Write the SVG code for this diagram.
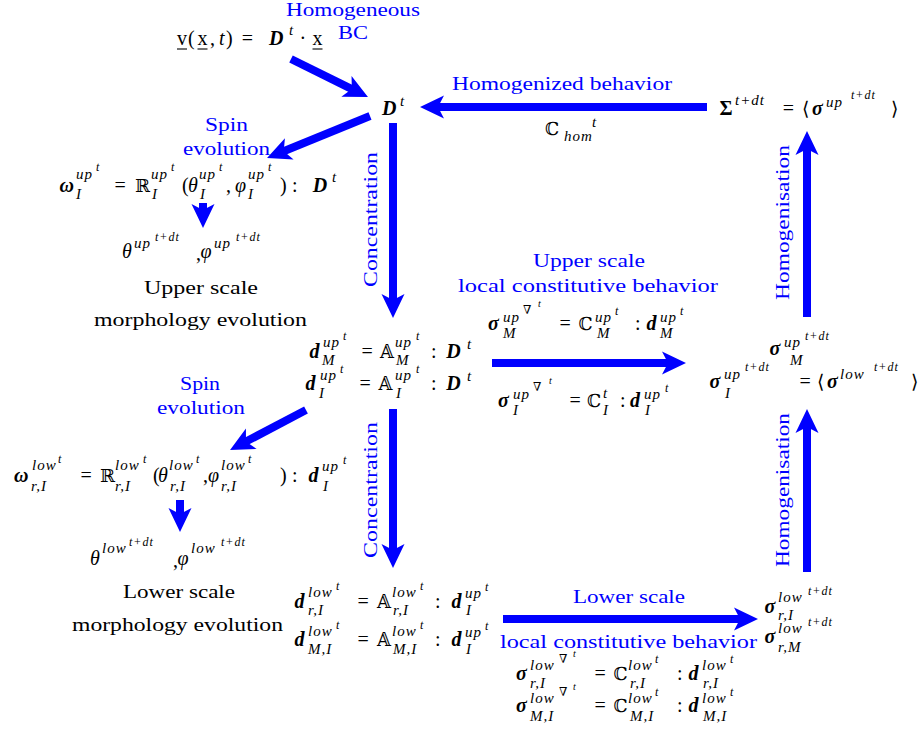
<svg xmlns="http://www.w3.org/2000/svg" width="922" height="736" viewBox="0 0 922 736">
<defs>
<style>
.t{font-family:"Liberation Serif","DejaVu Serif",serif;font-size:20px;fill:#000}
.it{font-style:italic}
.bi{font-style:italic;font-weight:bold}
.bo{font-weight:bold}
.bb{font-family:"DejaVu Serif","DejaVu Sans",serif;font-size:18px}
.sy{font-family:"DejaVu Sans",sans-serif;font-size:19px}
.s1{font-size:15px;font-style:italic;letter-spacing:1px}
.s2{font-size:12px;font-style:italic;letter-spacing:1px}
.s3{font-size:10px;font-style:italic}
.lbl{font-family:"Liberation Serif",serif;font-size:19px;fill:#0000ff}
.blk{font-family:"Liberation Serif",serif;font-size:19px;fill:#000}
.ul{stroke:#000;stroke-width:1.1}
.arr{stroke:#0000ff;stroke-width:8;fill:none;marker-end:url(#ah)}
</style>
<marker id="ah" markerUnits="userSpaceOnUse" viewBox="-15 -12 26 24" refX="0" refY="0" markerWidth="26" markerHeight="24" orient="auto" overflow="visible">
<path d="M10,0 L-14,-11.5 L-8,0 L-14,11.5 Z" fill="#0000ff"/>
</marker>
</defs>
<rect width="922" height="736" fill="#fff"/>

<g id="connectors">
<line class="arr" x1="291" y1="59" x2="359" y2="92.6"/>
<line class="arr" x1="707" y1="107" x2="430" y2="107"/>
<line class="arr" x1="370" y1="116" x2="276.3" y2="154.2"/>
<line class="arr" x1="203" y1="203" x2="203" y2="218"/>
<line class="arr" x1="393" y1="123" x2="393" y2="308"/>
<line class="arr" x1="807" y1="317" x2="807" y2="141"/>
<line class="arr" x1="492" y1="363" x2="676" y2="363"/>
<line class="arr" x1="306" y1="410" x2="238.9" y2="445.3"/>
<line class="arr" x1="180" y1="500" x2="180" y2="522"/>
<line class="arr" x1="393" y1="409" x2="393" y2="558"/>
<line class="arr" x1="807" y1="572" x2="807" y2="419"/>
<line class="arr" x1="503" y1="619" x2="748" y2="619"/>
</g>

<g id="labels">
<text class="lbl" x="286" y="16" textLength="134" lengthAdjust="spacingAndGlyphs">Homogeneous</text>
<text class="lbl" x="338" y="39" textLength="30" lengthAdjust="spacingAndGlyphs">BC</text>
<text class="lbl" x="452" y="90" textLength="220" lengthAdjust="spacingAndGlyphs">Homogenized behavior</text>
<text class="lbl" x="205" y="131" textLength="43" lengthAdjust="spacingAndGlyphs">Spin</text>
<text class="lbl" x="183" y="155" textLength="87" lengthAdjust="spacingAndGlyphs">evolution</text>
<text class="lbl" transform="translate(377,287) rotate(-90)" x="0" y="0" textLength="135" lengthAdjust="spacingAndGlyphs">Concentration</text>
<text class="lbl" transform="translate(789,300) rotate(-90)" x="0" y="0" textLength="155" lengthAdjust="spacingAndGlyphs">Homogenisation</text>
<text class="lbl" x="533" y="267" textLength="112" lengthAdjust="spacingAndGlyphs">Upper scale</text>
<text class="lbl" x="458" y="292" textLength="260" lengthAdjust="spacingAndGlyphs">local constitutive behavior</text>
<text class="lbl" x="180" y="390" textLength="40" lengthAdjust="spacingAndGlyphs">Spin</text>
<text class="lbl" x="157" y="414" textLength="88" lengthAdjust="spacingAndGlyphs">evolution</text>
<text class="lbl" transform="translate(377,558) rotate(-90)" x="0" y="0" textLength="136" lengthAdjust="spacingAndGlyphs">Concentration</text>
<text class="lbl" transform="translate(789,567) rotate(-90)" x="0" y="0" textLength="154" lengthAdjust="spacingAndGlyphs">Homogenisation</text>
<text class="lbl" x="573" y="603" textLength="112" lengthAdjust="spacingAndGlyphs">Lower scale</text>
<text class="lbl" x="500" y="648" textLength="257" lengthAdjust="spacingAndGlyphs">local constitutive behavior</text>
</g>

<g id="bc-velocity">
<text class="t"><tspan x="177" y="45">v</tspan><tspan x="188" y="45">(</tspan><tspan x="197.5" y="45">x</tspan><tspan x="210" y="45">,</tspan><tspan class="it" x="219" y="45">t</tspan><tspan x="226" y="45">)</tspan><tspan x="241.8" y="45">=</tspan><tspan class="bi" x="269" y="45">D</tspan><tspan class="s1" x="289" y="35">t</tspan><tspan x="299.5" y="45">·</tspan><tspan x="312.5" y="45">x</tspan></text>
<line class="ul" x1="177" y1="49" x2="187" y2="49"/>
<line class="ul" x1="197.5" y1="49" x2="207.5" y2="49"/>
<line class="ul" x1="312.5" y1="49" x2="322.5" y2="49"/>
</g>

<g id="D-macro">
<text class="t"><tspan class="bi" x="382" y="115">D</tspan><tspan class="s1" x="400" y="106">t</tspan></text>
</g>

<g id="Sigma-macro">
<text class="t"><tspan class="bo" x="719.6" y="115">Σ</tspan><tspan class="s1" x="735" y="105">t+dt</tspan><tspan x="782.8" y="115">=</tspan><tspan class="sy" x="802" y="115">⟨</tspan><tspan class="bi" x="812" y="115">σ</tspan><tspan class="s1" x="826" y="107">up</tspan><tspan class="s2" x="851" y="99">t+dt</tspan><tspan class="sy" x="891" y="115">⟩</tspan></text>
</g>

<g id="C-hom">
<text class="t"><tspan class="bb" x="545" y="135">ℂ</tspan><tspan class="s1" x="592" y="127">t</tspan><tspan class="s1" x="564" y="141">hom</tspan></text>
</g>

<g id="spin-up">
<text class="t"><tspan class="bi" x="59.5" y="192">ω</tspan><tspan class="s1" x="76" y="179">up</tspan><tspan class="s2" x="96" y="171">t</tspan><tspan class="s1" x="76" y="199">I</tspan><tspan x="114.4" y="192">=</tspan><tspan class="bb" x="135" y="192">ℝ</tspan><tspan class="s1" x="151" y="179">up</tspan><tspan class="s2" x="171" y="171">t</tspan><tspan class="s1" x="152" y="199">I</tspan><tspan x="182" y="192">(</tspan><tspan class="it" x="188" y="192">θ</tspan><tspan class="s1" x="199" y="179">up</tspan><tspan class="s2" x="219" y="171">t</tspan><tspan class="s1" x="200" y="199">I</tspan><tspan x="226" y="192">,</tspan><tspan class="it" x="235" y="192">φ</tspan><tspan class="s1" x="248" y="179">up</tspan><tspan class="s2" x="268" y="171">t</tspan><tspan class="s1" x="248" y="199">I</tspan><tspan x="280" y="192">)</tspan><tspan x="292" y="192">:</tspan><tspan class="bi" x="312.8" y="192">D</tspan><tspan class="s1" x="332" y="182">t</tspan></text>
</g>

<g id="angles-up">
<text class="t"><tspan class="it" x="122" y="258">θ</tspan><tspan class="s1" x="134" y="248">up</tspan><tspan class="s2" x="155" y="241">t+dt</tspan><tspan x="196" y="260">,</tspan><tspan class="it" x="200.5" y="258">φ</tspan><tspan class="s1" x="214" y="248">up</tspan><tspan class="s2" x="236" y="241">t+dt</tspan></text>
<text class="blk" x="144" y="294" textLength="114" lengthAdjust="spacingAndGlyphs">Upper scale</text>
<text class="blk" x="94" y="326" textLength="213" lengthAdjust="spacingAndGlyphs">morphology evolution</text>
</g>

<g id="concentration-up">
<text class="t"><tspan class="bi" x="309.5" y="358">d</tspan><tspan class="s1" x="323" y="347">up</tspan><tspan class="s2" x="343" y="340">t</tspan><tspan class="s1" x="322" y="365">M</tspan><tspan x="361.4" y="358">=</tspan><tspan class="bb" x="380" y="358">𝔸</tspan><tspan class="s1" x="395" y="347">up</tspan><tspan class="s2" x="416" y="340">t</tspan><tspan class="s1" x="396" y="365">M</tspan><tspan x="431" y="358">:</tspan><tspan class="bi" x="446.3" y="358">D</tspan><tspan class="s1" x="467" y="349">t</tspan></text>
<text class="t"><tspan class="bi" x="305.5" y="390">d</tspan><tspan class="s1" x="320" y="380">up</tspan><tspan class="s2" x="340" y="373">t</tspan><tspan class="s1" x="319" y="398">I</tspan><tspan x="359.4" y="390">=</tspan><tspan class="bb" x="378.5" y="390">𝔸</tspan><tspan class="s1" x="395" y="380">up</tspan><tspan class="s2" x="416" y="373">t</tspan><tspan class="s1" x="396" y="398">I</tspan><tspan x="431" y="390">:</tspan><tspan class="bi" x="446.3" y="390">D</tspan><tspan class="s1" x="467" y="381">t</tspan></text>
</g>

<g id="constitutive-up">
<text class="t"><tspan class="bi" x="488" y="330">σ</tspan><tspan class="s1" x="503" y="322">up</tspan><tspan class="s2" x="523" y="314">∇</tspan><tspan class="s3" x="538" y="307">t</tspan><tspan class="s1" x="503" y="338">M</tspan><tspan x="559.4" y="330">=</tspan><tspan class="bb" x="578.5" y="330">ℂ</tspan><tspan class="s1" x="595" y="322">up</tspan><tspan class="s2" x="615" y="315">t</tspan><tspan class="s1" x="597" y="338">M</tspan><tspan x="635" y="330">:</tspan><tspan class="bi" x="646.5" y="330">d</tspan><tspan class="s1" x="660" y="322">up</tspan><tspan class="s2" x="680" y="315">t</tspan><tspan class="s1" x="660" y="338">M</tspan></text>
<text class="t"><tspan class="bi" x="498" y="407">σ</tspan><tspan class="s1" x="513" y="399">up</tspan><tspan class="s2" x="533" y="391">∇</tspan><tspan class="s3" x="549" y="384">t</tspan><tspan class="s1" x="513" y="415">I</tspan><tspan x="569.4" y="407">=</tspan><tspan class="bb" x="587" y="407">ℂ</tspan><tspan class="s1" x="603" y="398">t</tspan><tspan class="s1" x="603" y="415">I</tspan><tspan x="620" y="407">:</tspan><tspan class="bi" x="630" y="407">d</tspan><tspan class="s1" x="644" y="399">up</tspan><tspan class="s2" x="665" y="392">t</tspan><tspan class="s1" x="645" y="415">I</tspan></text>
</g>

<g id="stress-up">
<text class="t"><tspan class="bi" x="769.5" y="355">σ</tspan><tspan class="s1" x="784" y="347">up</tspan><tspan class="s2" x="805" y="340">t+dt</tspan><tspan class="s1" x="790" y="365">M</tspan></text>
<text class="t"><tspan class="bi" x="709.5" y="388">σ</tspan><tspan class="s1" x="724" y="379">up</tspan><tspan class="s2" x="745" y="371">t+dt</tspan><tspan class="s1" x="725" y="398">I</tspan><tspan x="799.4" y="388">=</tspan><tspan class="sy" x="817" y="388">⟨</tspan><tspan class="bi" x="827" y="388">σ</tspan><tspan class="s1" x="840" y="379">low</tspan><tspan class="s2" x="874" y="371">t+dt</tspan><tspan class="sy" x="911" y="388">⟩</tspan></text>
</g>

<g id="spin-low">
<text class="t"><tspan class="bi" x="14" y="482">ω</tspan><tspan class="s1" x="32" y="470">low</tspan><tspan class="s2" x="58" y="463">t</tspan><tspan class="s1" x="31" y="491">r,I</tspan><tspan x="80.4" y="482">=</tspan><tspan class="bb" x="100" y="482">ℝ</tspan><tspan class="s1" x="115" y="470">low</tspan><tspan class="s2" x="143" y="463">t</tspan><tspan class="s1" x="115" y="491">r,I</tspan><tspan x="153" y="482">(</tspan><tspan class="it" x="158" y="482">θ</tspan><tspan class="s1" x="169" y="470">low</tspan><tspan class="s2" x="196" y="463">t</tspan><tspan class="s1" x="170" y="491">r,I</tspan><tspan x="203" y="482">,</tspan><tspan class="it" x="208" y="482">φ</tspan><tspan class="s1" x="221" y="470">low</tspan><tspan class="s2" x="248" y="463">t</tspan><tspan class="s1" x="221" y="491">r,I</tspan><tspan x="280" y="482">)</tspan><tspan x="292" y="482">:</tspan><tspan class="bi" x="308.5" y="482">d</tspan><tspan class="s1" x="322" y="471">up</tspan><tspan class="s2" x="343" y="464">t</tspan><tspan class="s1" x="323" y="491">I</tspan></text>
</g>

<g id="angles-low">
<text class="t"><tspan class="it" x="90" y="565">θ</tspan><tspan class="s1" x="102" y="553">low</tspan><tspan class="s2" x="129" y="546">t+dt</tspan><tspan x="173" y="567">,</tspan><tspan class="it" x="177.5" y="565">φ</tspan><tspan class="s1" x="191" y="553">low</tspan><tspan class="s2" x="221" y="546">t+dt</tspan></text>
<text class="blk" x="123" y="598" textLength="112" lengthAdjust="spacingAndGlyphs">Lower scale</text>
<text class="blk" x="72" y="631" textLength="211" lengthAdjust="spacingAndGlyphs">morphology evolution</text>
</g>

<g id="concentration-low">
<text class="t"><tspan class="bi" x="294.5" y="608">d</tspan><tspan class="s1" x="308" y="597">low</tspan><tspan class="s2" x="336" y="590">t</tspan><tspan class="s1" x="308" y="615">r,I</tspan><tspan x="357.4" y="608">=</tspan><tspan class="bb" x="377" y="608">𝔸</tspan><tspan class="s1" x="392" y="597">low</tspan><tspan class="s2" x="420" y="590">t</tspan><tspan class="s1" x="393" y="615">r,I</tspan><tspan x="435" y="608">:</tspan><tspan class="bi" x="451.5" y="608">d</tspan><tspan class="s1" x="465" y="598">up</tspan><tspan class="s2" x="485" y="591">t</tspan><tspan class="s1" x="466" y="615">I</tspan></text>
<text class="t"><tspan class="bi" x="294.5" y="646">d</tspan><tspan class="s1" x="308" y="636">low</tspan><tspan class="s2" x="336" y="629">t</tspan><tspan class="s1" x="308" y="654">M,I</tspan><tspan x="357.4" y="646">=</tspan><tspan class="bb" x="377" y="646">𝔸</tspan><tspan class="s1" x="392" y="636">low</tspan><tspan class="s2" x="420" y="629">t</tspan><tspan class="s1" x="393" y="654">M,I</tspan><tspan x="435" y="646">:</tspan><tspan class="bi" x="451.5" y="646">d</tspan><tspan class="s1" x="465" y="637">up</tspan><tspan class="s2" x="485" y="630">t</tspan><tspan class="s1" x="466" y="654">I</tspan></text>
</g>

<g id="stress-low">
<text class="t"><tspan class="bi" x="764.5" y="613">σ</tspan><tspan class="s1" x="778" y="602">low</tspan><tspan class="s2" x="808" y="595">t+dt</tspan><tspan class="s1" x="778" y="620">r,I</tspan></text>
<text class="t"><tspan class="bi" x="764.5" y="643">σ</tspan><tspan class="s1" x="778" y="633">low</tspan><tspan class="s2" x="808" y="626">t+dt</tspan><tspan class="s1" x="778" y="652">r,M</tspan></text>
</g>

<g id="constitutive-low">
<text class="t"><tspan class="bi" x="516" y="680">σ</tspan><tspan class="s1" x="530" y="670">low</tspan><tspan class="s2" x="559" y="663">∇</tspan><tspan class="s3" x="573" y="657">t</tspan><tspan class="s1" x="530" y="688">r,I</tspan><tspan x="594.4" y="680">=</tspan><tspan class="bb" x="613.5" y="680">ℂ</tspan><tspan class="s1" x="628" y="670">low</tspan><tspan class="s2" x="655" y="663">t</tspan><tspan class="s1" x="630" y="688">r,I</tspan><tspan x="677" y="680">:</tspan><tspan class="bi" x="688.5" y="680">d</tspan><tspan class="s1" x="702" y="670">low</tspan><tspan class="s2" x="730" y="663">t</tspan><tspan class="s1" x="703" y="688">r,I</tspan></text>
<text class="t"><tspan class="bi" x="516" y="712">σ</tspan><tspan class="s1" x="530" y="703">low</tspan><tspan class="s2" x="559" y="696">∇</tspan><tspan class="s3" x="573" y="690">t</tspan><tspan class="s1" x="530" y="721">M,I</tspan><tspan x="594.4" y="712">=</tspan><tspan class="bb" x="613.5" y="712">ℂ</tspan><tspan class="s1" x="628" y="703">low</tspan><tspan class="s2" x="655" y="696">t</tspan><tspan class="s1" x="630" y="721">M,I</tspan><tspan x="677" y="712">:</tspan><tspan class="bi" x="688.5" y="712">d</tspan><tspan class="s1" x="702" y="703">low</tspan><tspan class="s2" x="730" y="696">t</tspan><tspan class="s1" x="703" y="721">M,I</tspan></text>
</g>
</svg>
